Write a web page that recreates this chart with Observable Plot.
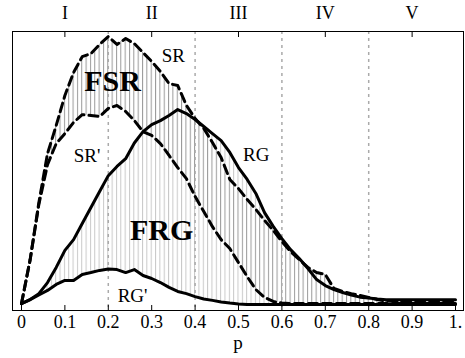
<!DOCTYPE html>
<html><head><meta charset="utf-8">
<script src="https://cdn.jsdelivr.net/npm/d3@7"></script>
<script src="https://cdn.jsdelivr.net/npm/@observablehq/plot@0.6"></script>
<style>body{margin:0;background:#fff} svg text{font-family:'Liberation Serif','Times New Roman',serif}</style>
</head><body><div id="chart"></div>
<script>
const pValues = [0,0.02,0.04,0.06,0.08,0.10,0.12,0.14,0.16,0.18,0.20,0.22,0.24,0.26,0.28,0.30,0.32,0.34,0.36,0.38,0.40,0.42,0.44,0.46,0.48,0.50,0.52,0.54,0.56,0.58,0.60,0.62,0.64,0.66,0.68,0.70,0.72,0.74,0.76,0.78,0.80,0.82,0.84,0.86,0.88,0.90,0.92,0.94,0.96,0.98,1.00];
const SR  = [0.7,17.0,38.1,56.3,66.7,77.8,86.3,92.2,93.3,96.7,99.6,96.7,98.9,97.0,93.7,90.4,86.7,82.2,81.5,74.1,69.3,65.6,60.4,54.8,46.7,43.3,39.3,35.6,31.5,27.8,23.7,20.0,17.0,14.1,12.2,11.5,6.3,5.2,4.4,3.7,3.0,2.2,1.7,1.5,1.3,1.3,1.3,1.3,1.3,1.3,1.3];
const SRp = [0.7,17.0,37.4,52.2,60.0,63.7,67.8,70.7,70.4,70.0,73.0,74.1,71.9,68.5,64.4,63.0,60.0,55.6,51.1,47.0,40.4,34.8,29.2,24.4,21.1,15.9,10.7,5.9,3.0,1.5,0.9,0.7,0.7,0.7,0.7,0.7,0.7,0.7,0.7,0.7,0.7,0.7,0.7,0.7,0.7,0.7,0.7,0.7,0.7,0.7,0.7];
const RG  = [0.7,2.2,4.4,8.5,14.1,20.4,24.4,30.4,36.3,42.2,48.1,51.5,54.4,60.2,64.4,67.0,68.5,70.4,72.6,71.1,68.9,66.3,63.7,61.1,56.7,51.1,46.7,41.5,34.4,29.3,24.8,20.7,17.4,13.7,9.6,7.4,5.9,4.8,3.9,3.1,2.8,2.4,2.1,2.1,2.1,2.1,2.1,2.1,2.1,2.1,2.1];
const RGp = [0.7,2.2,3.9,5.6,7.8,9.3,9.3,11.5,12.2,13.0,13.5,13.3,12.2,13.3,11.1,10.0,8.5,6.7,5.2,4.4,3.3,2.4,1.9,1.3,0.9,0.6,0.4,0.4,0.4,0.4,0.4,0.4,0.4,0.4,0.4,0.4,0.4,0.4,0.4,0.4,0.4,0.4,0.4,0.4,0.4,0.4,0.4,0.4,0.4,0.4,0.4];

const bottomTicks = [0,0.1,0.2,0.3,0.4,0.5,0.6,0.7,0.8,0.9,1];
const bottomTickLabels = ["0","0.1","0.2","0.3","0.4","0.5","0.6","0.7","0.8","0.9","1."];
const regionTicks = [0.1,0.3,0.5,0.7,0.9];
const regionLabels = ["I","II","III","IV","V"];
const dividers = [0.2,0.4,0.6,0.8];
const curveLabels = [
  {text:"SR", p:0.350, v:92.6},
  {text:"SR'", p:0.151, v:55.6},
  {text:"RG", p:0.541, v:55.9},
  {text:"RG'", p:0.256, v:3.7}
];
const areaLabels = [
  {text:"FSR", p:0.210, v:83},
  {text:"FRG", p:0.323, v:27.8}
];

const data = pValues.map((p,i)=>({p, SR:SR[i], SRp:SRp[i], RG:RG[i], RGp:RGp[i]}));
const font = "'Liberation Serif', 'Times New Roman', serif";

const chart = Plot.plot({
  width:465, height:358,
  marginLeft:12, marginRight:2, marginTop:31, marginBottom:48,
  style:{fontFamily:font, fontSize:"18px", color:"#000", background:"#fff"},
  x:{domain:[-0.0207,1.0184]},
  y:{domain:[-1.85,101.5], axis:null},
  marks:[
    Plot.areaY(data,{x:"p", y1:"RGp", y2:"RG", fill:"url(#hatchLight)", curve:"linear"}),
    Plot.areaY(data,{x:"p", y1:"SRp", y2:"SR", fill:"url(#hatchDark)", curve:"linear"}),
    Plot.ruleX(dividers,{stroke:"#aaa", strokeWidth:1.5, strokeDasharray:"3,4"}),
    Plot.line(data,{x:"p", y:"RGp", stroke:"#000", strokeWidth:3}),
    Plot.line(data,{x:"p", y:"RG", stroke:"#000", strokeWidth:3}),
    Plot.line(data,{x:"p", y:"SRp", stroke:"#000", strokeWidth:3, strokeDasharray:"9,5"}),
    Plot.line(data,{x:"p", y:"SR", stroke:"#000", strokeWidth:3, strokeDasharray:"9,5"}),
    Plot.text(curveLabels,{x:"p", y:"v", text:"text", fontSize:19, fill:"#000"}),
    Plot.text(areaLabels,{x:"p", y:"v", text:"text", fontSize:30, fontWeight:"bold", fill:"#000"}),
    Plot.frame({stroke:"#000"}),
    Plot.axisX(bottomTicks,{anchor:"bottom", tickSize:-5, tickPadding:10, tickFormat:(d,i)=>bottomTickLabels[i], fontSize:18, label:null}),
    Plot.axisX(regionTicks,{anchor:"top", tickSize:-5, tickPadding:18, tickFormat:(d,i)=>regionLabels[i], fontSize:18, label:null}),
    Plot.text(["p"],{frameAnchor:"bottom", dy:38, fontSize:19, fill:"#000"})
  ]
});

const sx = chart.scale("x");
const x0 = sx.apply(0), step = sx.apply(0.01) - x0;
const ns = "http://www.w3.org/2000/svg";
const defs = document.createElementNS(ns,"defs");
defs.innerHTML = `
<pattern id="hatchLight" patternUnits="userSpaceOnUse" x="${x0-0.5}" y="0" width="${step}" height="10"><line x1="0.5" y1="0" x2="0.5" y2="10" stroke="#c8c8c8" stroke-width="1"/></pattern>
<pattern id="hatchDark" patternUnits="userSpaceOnUse" x="${x0-0.5}" y="0" width="${step}" height="10"><rect x="0" y="0" width="${step}" height="10" fill="#fff"/><line x1="0.5" y1="0" x2="0.5" y2="10" stroke="#999" stroke-width="1"/></pattern>`;
chart.prepend(defs);
document.getElementById("chart").append(chart);
</script>
</body></html>
